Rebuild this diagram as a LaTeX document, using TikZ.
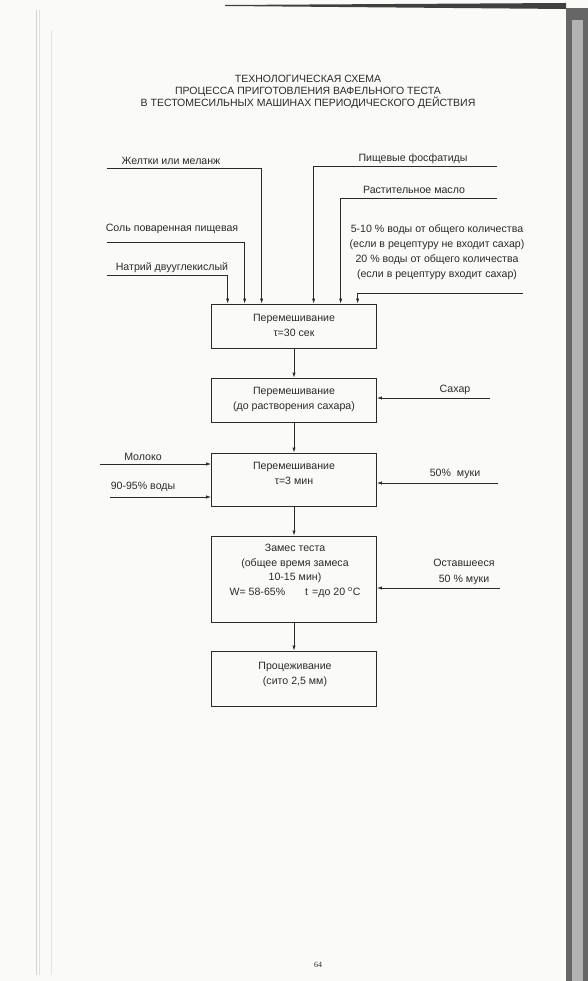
\documentclass[tikz,border=0pt]{standalone}
\usepackage{fontspec}
\setmainfont{Liberation Sans}
\newfontfamily\pagefont{Liberation Serif}
\usetikzlibrary{arrows.meta}
\definecolor{ink}{HTML}{2A2A2A}
\definecolor{paper}{HTML}{FAFAF8}
\begin{document}
\begin{tikzpicture}[x=1pt,y=-1pt,
  every node/.style={text=ink},
  box/.style={draw=ink, line width=0.7pt, minimum width=165pt, inner sep=0pt},
  txt/.style={align=center, font=\fontsize{10.6}{15}\selectfont, inner sep=0pt},
  ttl/.style={align=center, font=\fontsize{10.5}{11.5}\selectfont, inner sep=0pt},
  ln/.style={draw=ink, line width=0.7pt},
  arr/.style={ln, -{Latex[length=5pt,width=3.2pt]}}]
\fill[paper] (0,0) rectangle (588,981);
\useasboundingbox (0,0) rectangle (588,981);
% scan edges
\fill[gray!80!black] (566,8) rectangle (588,981);
\fill[gray!60] (572,20) rectangle (583,981);
\fill[black!75] (225,5) -- (566,3) -- (566,9) -- (225,6) -- cycle;
\draw[gray!35, line width=0.8pt] (36,10) -- (36,975);
\draw[gray!25, line width=0.6pt] (39,10) -- (39,975);
\draw[gray!20, line width=0.5pt] (51,30) -- (51,975);
% title
\node[ttl] (title) at (308,92) {ТЕХНОЛОГИЧЕСКАЯ СХЕМА\\ПРОЦЕССА ПРИГОТОВЛЕНИЯ ВАФЕЛЬНОГО ТЕСТА\\В ТЕСТОМЕСИЛЬНЫХ МАШИНАХ ПЕРИОДИЧЕСКОГО ДЕЙСТВИЯ};
% boxes
\node[box, minimum height=44pt] (b1) at (294,326) {};
\node[box, minimum height=44pt] (b2) at (294,400) {};
\node[box, minimum height=53pt] (b3) at (294,479.5) {};
\node[box, minimum height=86pt] (b4) at (294,579) {};
\node[box, minimum height=55pt] (b5) at (294,678.5) {};
\node[txt] (b1t) at (294,325.5) {Перемешивание\\τ=30 сек};
\node[txt] (b2t) at (294,399.5) {Перемешивание\\(до растворения сахара)};
\node[txt] (b3t) at (294,473.5) {Перемешивание\\τ=3 мин};
\node[txt, font=\fontsize{10.6}{14.7}\selectfont] (b4t) at (295,571) {Замес теста\\(общее время замеса\\10-15 мин)\\W= 58-65\%\hspace{20pt}t\hspace{4pt}=до 20 \textsuperscript{o}C};
\node[txt] (b5t) at (295,674) {Процеживание\\(сито 2,5 мм)};
% top inputs
\node[txt] (tzh) at (171,161) {Желтки или меланж};
\node[txt] (tsol) at (172,229) {Соль поваренная пищевая};
\node[txt] (tna) at (172,268) {Натрий двууглекислый};
\node[txt] (tpf) at (413,159) {Пищевые фосфатиды};
\node[txt] (trm) at (414,190) {Растительное масло};
\node[txt] (tw) at (437,252.5) {5-10 \% воды от общего количества\\(если в рецептуру не входит сахар)\\20 \% воды от общего количества\\(если в рецептуру входит сахар)};
\coordinate (szh) at (107,168);
\coordinate (ssol) at (107,242);
\coordinate (sna) at (107,275);
\coordinate (spf) at (497,166);
\coordinate (srm) at (497,198);
\coordinate (sw) at (523,293);
\draw[arr] (szh) -| ([xshift=50.5pt]b1.north west);
\draw[arr] (ssol) -| ([xshift=33.5pt]b1.north west);
\draw[arr] (sna) -| ([xshift=16.5pt]b1.north west);
\draw[arr] (spf) -| ([xshift=102.5pt]b1.north west);
\draw[arr] (srm) -| ([xshift=129.5pt]b1.north west);
\draw[arr] (sw) -| ([xshift=146.5pt]b1.north west);
% main flow
\draw[arr] (b1.south) -- (b2.north);
\draw[arr] (b2.south) -- (b3.north);
\draw[arr] (b3.south) -- (b4.north);
\draw[arr] (b4.south) -- (b5.north);
% side inputs
\node[txt] (tsah) at (455,390) {Сахар};
\coordinate (ssah) at (490,398);
\draw[arr] (ssah) -- (ssah -| b2.east);
\node[txt] (tmol) at (143,457) {Молоко};
\coordinate (smol) at (100,464);
\draw[arr] (smol) -- (smol -| b3.west);
\node[txt] (tvod) at (143,487) {90-95\% воды};
\coordinate (svod) at (110,497);
\draw[arr] (svod) -- (svod -| b3.west);
\node[txt] (tm50) at (455,474) {50\%\ \ муки};
\coordinate (sm50) at (498,483);
\draw[arr] (sm50) -- (sm50 -| b3.east);
\node[txt, font=\fontsize{10.6}{16}\selectfont] (tost) at (464,572) {Оставшееся\\50 \% муки};
\coordinate (sost) at (500,588);
\draw[arr] (sost) -- (sost -| b4.east);
% page number
\node[inner sep=0pt, font=\pagefont\fontsize{8}{9}\selectfont] (pg) at (318,965) {64};
\end{tikzpicture}
\end{document}
